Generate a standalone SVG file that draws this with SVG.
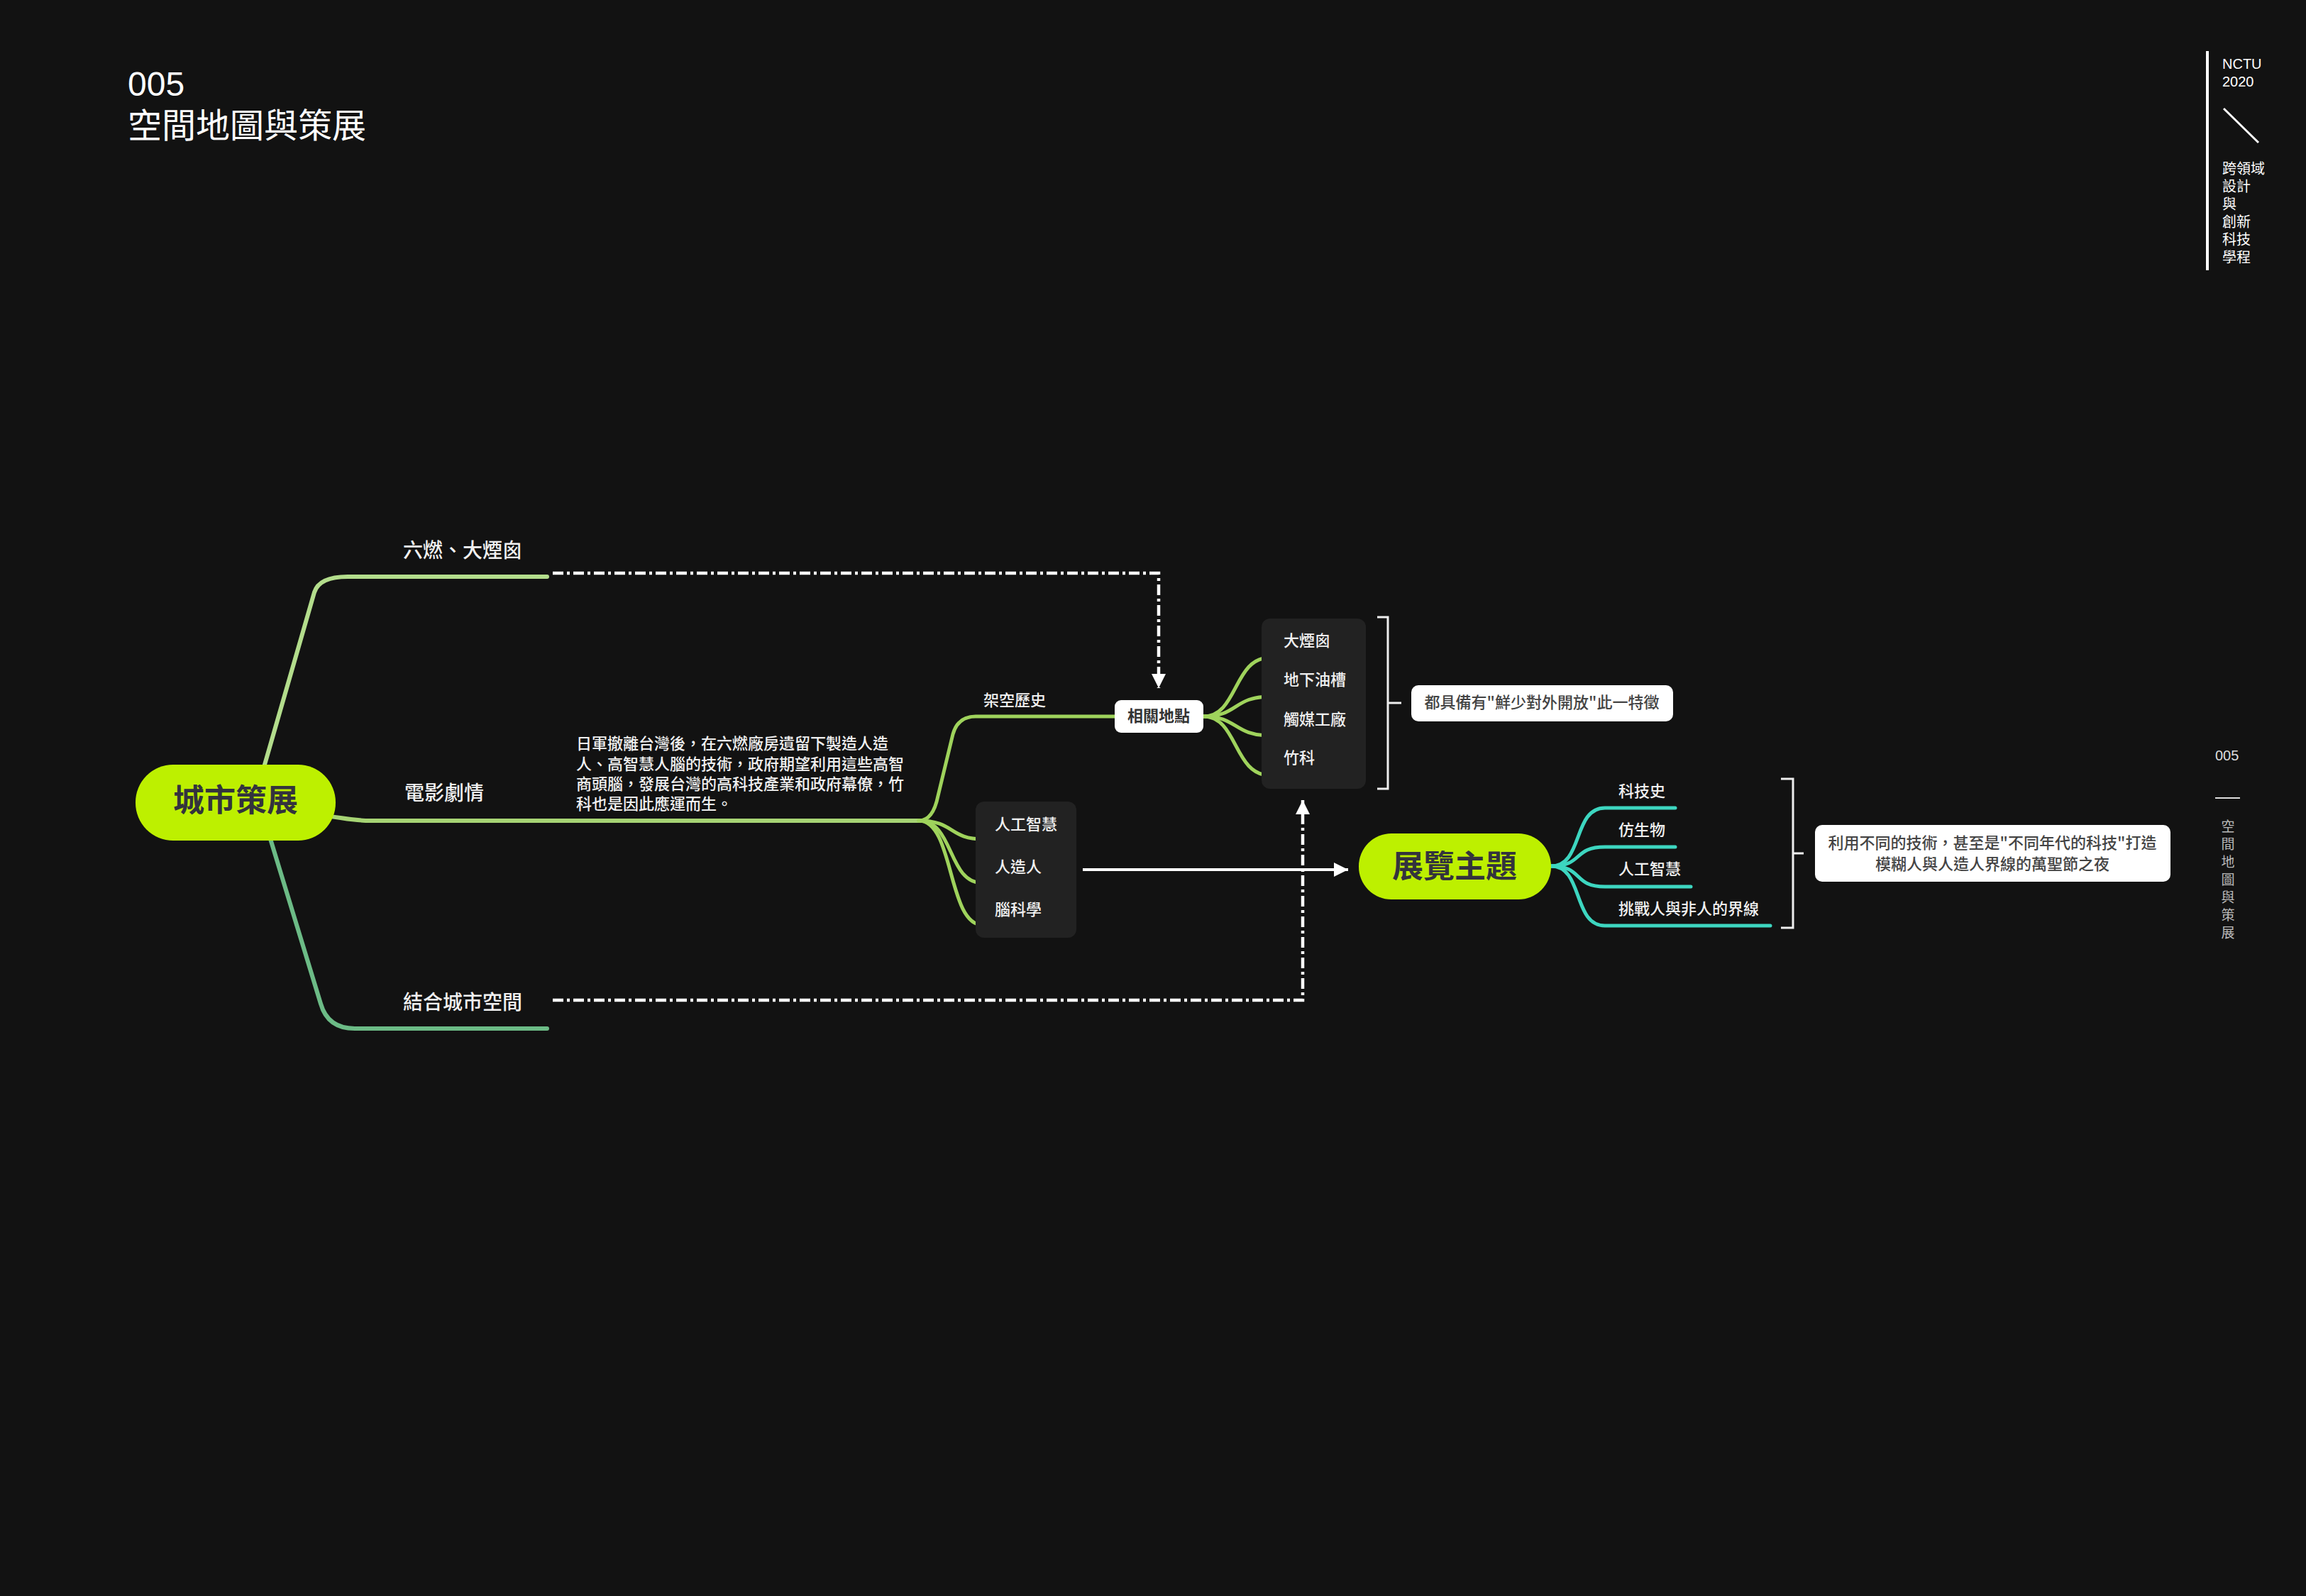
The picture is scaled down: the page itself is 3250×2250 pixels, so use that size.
<svg xmlns="http://www.w3.org/2000/svg" width="3250" height="2250" viewBox="0 0 3250 2250">
<style>
.cjk{font-family:"Noto Sans CJK TC","Noto Sans CJK SC",sans-serif}
.lat{font-family:"Liberation Sans",Arial,sans-serif}
.l1{font-size:28px;fill:#f0f0f0;font-weight:500}
.l2{font-size:22px;fill:#f0f0f0;font-weight:500}
.root{font-size:44px;fill:#33333d;font-weight:700}
.dark{fill:#222222}
.note{fill:#ffffff}
.notetxt{font-size:22px;fill:#444444;font-weight:500}
.br{fill:none;stroke-linecap:round;stroke-linejoin:round}
.dash{fill:none;stroke:#ffffff;stroke-width:4.5;stroke-dasharray:15 5 4 5}
.bracket{fill:none;stroke:#eeeeee;stroke-width:3}
</style>
<defs>
<marker id="arr" markerUnits="userSpaceOnUse" markerWidth="22" markerHeight="22" refX="20" refY="10" orient="auto">
<path d="M0,0 L20,10 L0,20 z" fill="#ffffff"/>
</marker>
</defs>
<rect x="0" y="0" width="3250" height="2250" fill="#121212"/>

<g id="title">
<text class="lat" x="180" y="135" font-size="48" fill="#ffffff">005</text>
<text class="cjk" x="180" y="194" font-size="48" fill="#ffffff">空間地圖與策展</text>
</g>

<g id="sidebar">
<line x1="3111" y1="72" x2="3111" y2="381" stroke="#ffffff" stroke-width="4"/>
<text class="lat" x="3132" y="97" font-size="20" fill="#ffffff">NCTU</text>
<text class="lat" x="3132" y="122" font-size="20" fill="#ffffff">2020</text>
<line x1="3134" y1="153" x2="3183" y2="201" stroke="#ffffff" stroke-width="3"/>
<g class="cjk" font-size="20" fill="#ffffff">
<text x="3132" y="245">跨領域</text>
<text x="3132" y="270">設計</text>
<text x="3132" y="295">與</text>
<text x="3132" y="320">創新</text>
<text x="3132" y="345">科技</text>
<text x="3132" y="370">學程</text>
</g>
<text class="lat" x="3122" y="1072" font-size="20" fill="#dddddd">005</text>
<line x1="3122" y1="1125" x2="3157" y2="1125" stroke="#dddddd" stroke-width="2"/>
<g class="cjk" font-size="19" fill="#bbbbbb" text-anchor="middle">
<text x="3140" y="1172">空</text>
<text x="3140" y="1197">間</text>
<text x="3140" y="1222">地</text>
<text x="3140" y="1247">圖</text>
<text x="3140" y="1272">與</text>
<text x="3140" y="1297">策</text>
<text x="3140" y="1322">展</text>
</g>
</g>

<g id="connectors">
<!-- root branches -->
<path class="br" d="M 358 1130 L 443 835 Q 450 813 490 813 L 771 813" stroke="#b3dd8c" stroke-width="6"/>
<path class="br" d="M 430 1148 C 478 1150 488 1157 522 1157 L 1303 1157" stroke="#a6d474" stroke-width="6"/>
<path class="br" d="M 368 1140 L 452 1415 Q 462 1450 500 1450 L 771 1450" stroke="#6cbb86" stroke-width="6"/>
<!-- movie sub-branches -->
<path class="br" d="M 1295 1157 Q 1315 1157 1322 1122 L 1343 1035 Q 1350 1010 1375 1010 L 1571 1010" stroke="#9fd35c" stroke-width="5"/>
<path class="br" d="M 1295 1157 C 1345 1157 1338 1183 1385 1183 L 1445 1183" stroke="#9fd35c" stroke-width="5"/>
<path class="br" d="M 1295 1157 C 1345 1157 1335 1245 1385 1245 L 1480 1245" stroke="#9fd35c" stroke-width="5"/>
<path class="br" d="M 1295 1157 C 1345 1157 1335 1304 1385 1304 L 1480 1304" stroke="#9fd35c" stroke-width="5"/>
<!-- location sub-branches -->
<path class="br" d="M 1696 1010 C 1745 1010 1738 927 1790 927 L 1889 927" stroke="#9fd35c" stroke-width="5"/>
<path class="br" d="M 1696 1010 C 1745 1010 1738 982 1790 982 L 1910 982" stroke="#9fd35c" stroke-width="5"/>
<path class="br" d="M 1696 1010 C 1745 1010 1738 1037 1790 1037 L 1910 1037" stroke="#9fd35c" stroke-width="5"/>
<path class="br" d="M 1696 1010 C 1745 1010 1738 1093 1790 1093 L 1866 1093" stroke="#9fd35c" stroke-width="5"/>
<!-- theme sub-branches -->
<path class="br" d="M 2186 1221 C 2232 1221 2216 1139 2262 1139 L 2361 1139" stroke="#3dd6c0" stroke-width="5"/>
<path class="br" d="M 2186 1221 C 2232 1221 2216 1194 2262 1194 L 2361 1194" stroke="#3dd6c0" stroke-width="5"/>
<path class="br" d="M 2186 1221 C 2232 1221 2216 1250 2262 1250 L 2383 1250" stroke="#3dd6c0" stroke-width="5"/>
<path class="br" d="M 2186 1221 C 2232 1221 2216 1305 2262 1305 L 2495 1305" stroke="#3dd6c0" stroke-width="5"/>
<!-- dashed relations -->
<path class="dash" d="M 779 808 H 1633 V 970" marker-end="url(#arr)"/>
<path class="dash" d="M 779 1410 H 1836 V 1128" marker-end="url(#arr)"/>
<!-- solid arrow -->
<path d="M 1526 1226 H 1900" stroke="#ffffff" stroke-width="4" fill="none" marker-end="url(#arr)"/>
<!-- brackets -->
<path class="bracket" d="M 1941 870 H 1956 V 1112 H 1941 M 1956 991 H 1975"/>
<path class="bracket" d="M 2510 1098 H 2527 V 1308 H 2510 M 2527 1203 H 2542"/>
</g>

<g id="node-city">
<rect x="191" y="1078" width="282" height="107" rx="53" fill="#bdf000"/>
<text class="cjk root" x="332" y="1144" text-anchor="middle">城市策展</text>
</g>

<g id="node-liuran">
<text class="cjk l1" x="568" y="786">六燃、大煙囪</text>
</g>
<g id="node-movie">
<text class="cjk l1" x="570" y="1128">電影劇情</text>
</g>
<g id="node-citysapce">
<text class="cjk l1" x="568" y="1423">結合城市空間</text>
</g>

<g id="node-story">
<g class="cjk l2" fill="#e8e8e8">
<text x="812" y="1056">日軍撤離台灣後，在六燃廠房遺留下製造人造</text>
<text x="812" y="1085">人、高智慧人腦的技術，政府期望利用這些高智</text>
<text x="812" y="1113">商頭腦，發展台灣的高科技產業和政府幕僚，竹</text>
<text x="812" y="1141">科也是因此應運而生。</text>
</g>
</g>

<g id="node-history">
<text class="cjk l2" x="1386" y="995">架空歷史</text>
</g>

<g id="node-topics">
<rect class="dark" x="1375" y="1130" width="142" height="192" rx="12"/>
<text class="cjk l2" x="1402" y="1170">人工智慧</text>
<text class="cjk l2" x="1402" y="1230">人造人</text>
<text class="cjk l2" x="1402" y="1290">腦科學</text>
</g>

<g id="node-places">
<rect x="1571" y="987" width="125" height="46" rx="9" fill="#ffffff"/>
<text class="cjk" x="1633" y="1017" font-size="22" font-weight="700" fill="#333333" text-anchor="middle">相關地點</text>
</g>

<g id="node-placelist">
<rect class="dark" x="1778" y="872" width="147" height="240" rx="12"/>
<text class="cjk l2" x="1809" y="911">大煙囪</text>
<text class="cjk l2" x="1809" y="966">地下油槽</text>
<text class="cjk l2" x="1809" y="1022">觸媒工廠</text>
<text class="cjk l2" x="1809" y="1076">竹科</text>
</g>

<g id="node-note1">
<rect class="note" x="1989" y="966" width="369" height="51" rx="10"/>
<text class="cjk notetxt" x="2173" y="998" text-anchor="middle">都具備有"鮮少對外開放"此一特徵</text>
</g>

<g id="node-theme">
<rect x="1915" y="1175" width="271" height="93" rx="46" fill="#bdf000"/>
<text class="cjk root" x="2050" y="1237" text-anchor="middle">展覽主題</text>
</g>

<g id="node-themelist">
<text class="cjk l2" x="2281" y="1123">科技史</text>
<text class="cjk l2" x="2281" y="1178">仿生物</text>
<text class="cjk l2" x="2281" y="1233">人工智慧</text>
<text class="cjk l2" x="2281" y="1289">挑戰人與非人的界線</text>
</g>

<g id="node-note2">
<rect class="note" x="2558" y="1163" width="501" height="80" rx="10"/>
<text class="cjk notetxt" x="2808" y="1196" text-anchor="middle">利用不同的技術，甚至是"不同年代的科技"打造</text>
<text class="cjk notetxt" x="2808" y="1226" text-anchor="middle">模糊人與人造人界線的萬聖節之夜</text>
</g>
</svg>
